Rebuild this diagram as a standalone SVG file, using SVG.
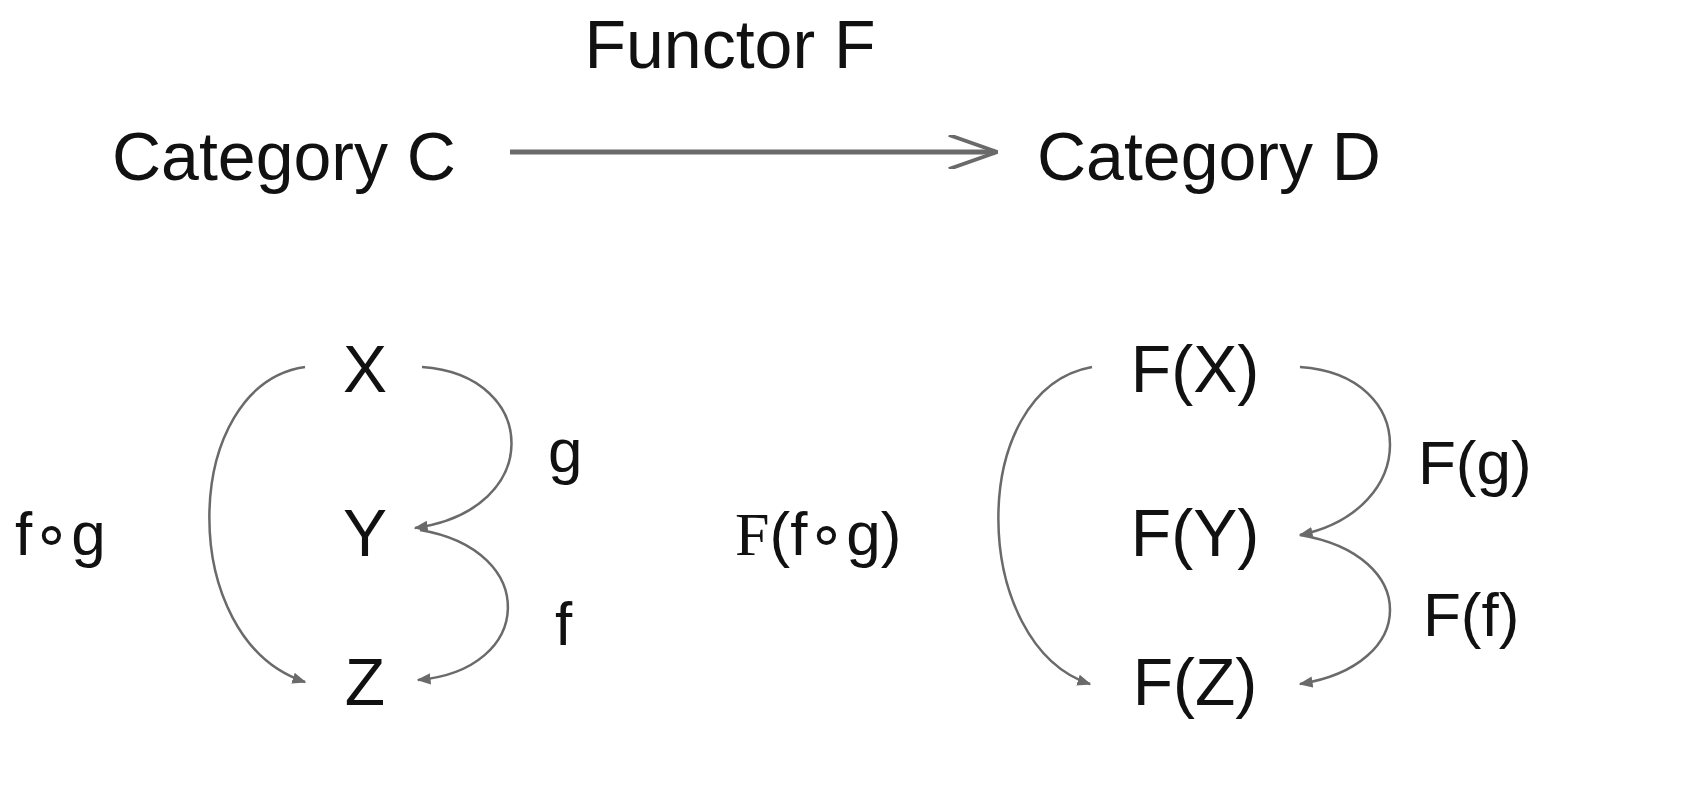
<svg xmlns="http://www.w3.org/2000/svg" width="1698" height="803" viewBox="0 0 1698 803">
<style>
text{font-family:"Liberation Sans",Arial,sans-serif;fill:#111;}
.big{font-size:68px}
.n{font-size:66px;text-anchor:middle}
.l{font-size:62px}
.c{fill:none;stroke:#6a6a6a;stroke-width:2.5}
</style>
<defs>
<marker id="a" viewBox="0 0 10 10" refX="9" refY="5" markerWidth="14" markerHeight="14" orient="auto" markerUnits="userSpaceOnUse"><path d="M0,1 L10,5 L0,9 Z" fill="#6a6a6a"/></marker>
<marker id="b" viewBox="0 0 20 14" refX="19" refY="7" markerWidth="50" markerHeight="34" orient="auto" markerUnits="userSpaceOnUse"><path d="M0,0 L20,7 L0,14" fill="none" stroke="#6a6a6a" stroke-width="1.6"/></marker>
</defs>
<text class="big" x="730" y="68" text-anchor="middle">Functor F</text>
<g id="catC"><text class="big" x="112" y="180">Category C</text></g>
<g id="catD"><text class="big" x="1037" y="180">Category D</text></g>
<g id="X"><text class="n" x="365" y="392">X</text></g>
<g id="Y"><text class="n" x="365" y="556">Y</text></g>
<g id="Z"><text class="n" x="365" y="705">Z</text></g>
<g id="FX"><text class="n" x="1195" y="392">F(X)</text></g>
<g id="FY"><text class="n" x="1195" y="556">F(Y)</text></g>
<g id="FZ"><text class="n" x="1195" y="705">F(Z)</text></g>
<g id="connectors">
<path d="M510,152 L995,152" fill="none" stroke="#6a6a6a" stroke-width="5" marker-end="url(#b)"/>
<path class="c" d="M422,367 C540,375 545,510 415,528" marker-end="url(#a)"/>
<path class="c" d="M420,530 C540,550 535,670 418,680" marker-end="url(#a)"/>
<path class="c" d="M305,367 C180,385 175,640 305,682" marker-end="url(#a)"/>
<path class="c" d="M1300,367 C1420,375 1420,510 1300,535" marker-end="url(#a)"/>
<path class="c" d="M1300,535 C1420,555 1420,665 1300,684" marker-end="url(#a)"/>
<path class="c" d="M1092,367 C965,390 970,645 1090,684" marker-end="url(#a)"/>
<text class="l" x="548" y="472">g</text>
<text class="l" x="555" y="645">f</text>
<text class="l" x="15" y="555">f∘g</text>
<text class="l" x="1418" y="484">F(g)</text>
<text class="l" x="1423" y="636">F(f)</text>
<text class="l" x="735" y="555"><tspan font-family="Liberation Serif,serif">F</tspan>(f∘g)</text>
</g>
</svg>
